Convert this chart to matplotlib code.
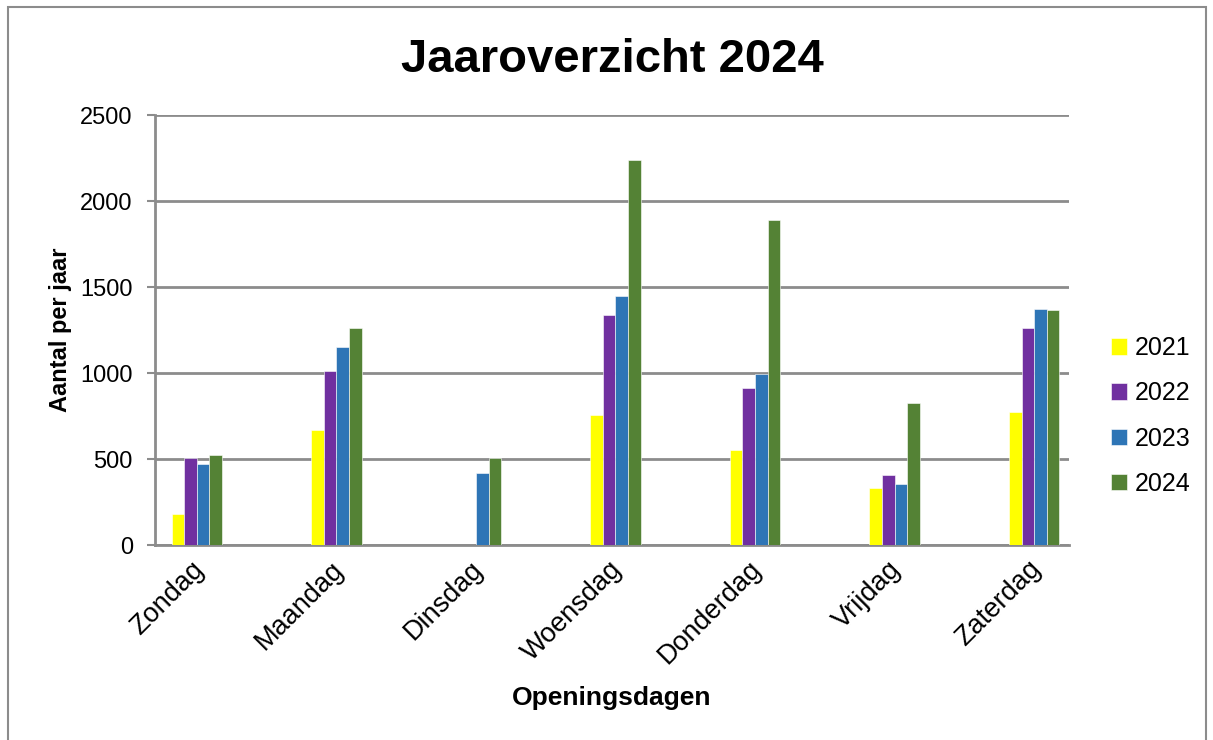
import numpy as np
import matplotlib
matplotlib.use("Agg")
import matplotlib.pyplot as plt
import matplotlib.transforms as mtransforms
from matplotlib.patches import Rectangle

plt.rcParams['font.family'] = ['Liberation Sans', 'DejaVu Sans']

days = ["Zondag", "Maandag", "Dinsdag", "Woensdag", "Donderdag", "Vrijdag", "Zaterdag"]
years = ["2021", "2022", "2023", "2024"]
v2021 = [183, 671, 0, 758, 552, 332, 776]
v2022 = [503, 1009, 0, 1337, 910, 408, 1264]
v2023 = [470, 1151, 420, 1446, 997, 354, 1372]
v2024 = [525, 1260, 503, 2239, 1889, 828, 1369]
colors = ["#FFFF00", "#7030A0", "#2E75B6", "#548235"]

fig = plt.figure(figsize=(12.13, 7.40), dpi=100)
ax = fig.add_axes([155/1213, 1-545/740, 914/1213, 430/740])

x = np.arange(len(days))
w = 0.09
series = [v2021, v2022, v2023, v2024]
for i, (vals, c, lab) in enumerate(zip(series, colors, years)):
    ax.bar(x + (i - 1.5) * w, vals, width=w, color=c, label=lab, zorder=3,
           edgecolor="white", linewidth=0.4)

ax.set_xlim(-0.30, 6.25)
ax.set_ylim(0, 2500)
ax.set_yticks(range(0, 2501, 500))
ax.yaxis.grid(True, color="#8c8c8c", linewidth=2, zorder=0)
ax.set_xticks(x)
ax.set_xticklabels(days, rotation=45, ha="right", fontsize=19.5)
ax.tick_params(axis="x", length=0, pad=8)
ax.tick_params(axis="y", labelsize=17, length=6, width=1.5, color="#8c8c8c", pad=10)

# labels sit a little right of the category centre, like the original
shift = mtransforms.ScaledTranslation(12/100, 0, fig.dpi_scale_trans)
for lbl in ax.get_xticklabels():
    lbl.set_transform(lbl.get_transform() + shift)

for s in ["top", "right"]:
    ax.spines[s].set_visible(False)
for s in ["left", "bottom"]:
    ax.spines[s].set_color("#8c8c8c")
    ax.spines[s].set_linewidth(2)

ax.set_title("Jaaroverzicht 2024", fontsize=34, fontweight="bold", pad=31)
ax.set_ylabel("Aantal per jaar", fontsize=17, fontweight="bold", labelpad=6)
ax.set_xlabel("Openingsdagen", fontsize=19, fontweight="bold", labelpad=12)

fig.legend(loc="center left", bbox_to_anchor=(1088/1213, 1-416/740), frameon=False,
           fontsize=18, handlelength=0.65, handleheight=0.65, handletextpad=0.3,
           labelspacing=0.85)

fig.patches.append(Rectangle((8/1213, -0.02), 1198/1213, 1.02 - 7/740,
                             transform=fig.transFigure, fill=False,
                             edgecolor="#8c8c8c", linewidth=1.5))

fig.savefig("out.png", dpi=100)
